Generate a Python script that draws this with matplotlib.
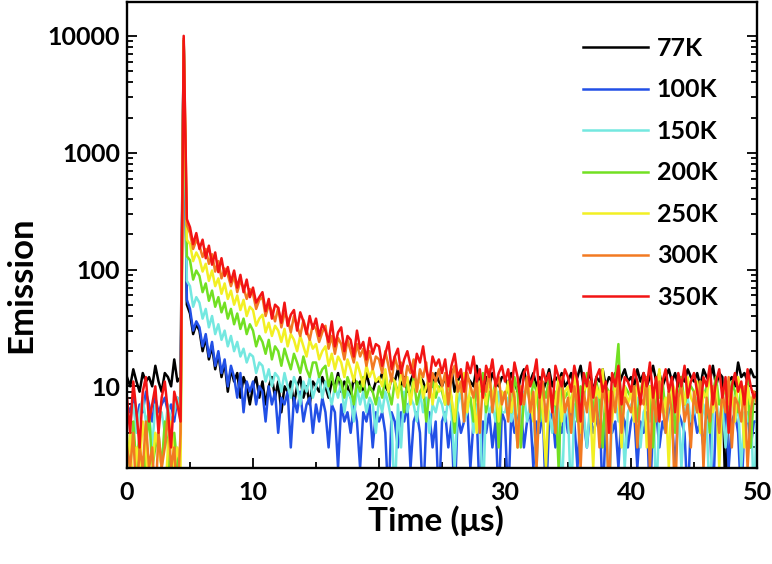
import numpy as np
from matplotlib import pyplot as plt
from matplotlib.ticker import MultipleLocator, LogLocator, NullFormatter

plt.rcParams['font.family'] = ['Lato', 'DejaVu Sans']
plt.rcParams['font.weight'] = 'bold'

# time axis, 0.25 us steps from 0 to 50
time_us = np.arange(0, 50.001, 0.25)

# emission counts (values below the axis floor drop off the plot)
em_77k = [12, 10, 14, 11, 9, 13, 11, 12, 10, 15, 11, 9, 13, 12, 10, 17, 11, 12, 9000, 50,
          42, 28, 34, 30, 20, 26, 17, 22, 14, 19, 12, 16, 9, 14, 11, 13, 8, 12, 10, 7,
          10, 12, 8, 11, 7, 10, 12, 8, 11, 6, 10, 9, 11, 7, 10, 12, 8, 10, 7, 11,
          10, 9, 12, 10, 8, 11, 10, 13, 9, 11, 10, 8, 12, 10, 11, 9, 13, 10, 9, 11,
          11, 13, 10, 9, 12, 11, 14, 10, 12, 9, 11, 13, 10, 12, 11, 9, 12, 10, 13, 11,
          10, 12, 11, 14, 9, 11, 13, 10, 12, 11, 10, 15, 11, 9, 12, 10, 13, 11, 10, 12,
          12, 10, 13, 11, 9, 12, 14, 10, 11, 13, 10, 12, 9, 11, 14, 10, 12, 11, 13, 10,
          11, 13, 10, 12, 15, 10, 11, 13, 9, 12, 11, 14, 10, 12, 11, 13, 10, 12, 14, 11,
          12, 10, 14, 11, 13, 10, 12, 15, 11, 13, 10, 12, 14, 11, 13, 10, 12, 11, 14, 12,
          11, 13, 10, 14, 12, 11, 15, 10, 13, 12, 1, 11, 12, 10, 16, 12, 13, 11, 14, 12,
          12]
em_100k = [7, 6, 8, 5, 7, 6, 9, 7, 5, 8, 6, 7, 8, 6, 7, 5, 8, 6, 9000, 55,
           46, 30, 36, 32, 22, 28, 18, 24, 15, 20, 13, 17, 10, 15, 12, 8, 13, 6, 11, 9,
           11, 7, 10, 9, 5, 10, 7, 9, 4, 8, 7, 9, 3, 8, 6, 9, 5, 7, 8, 4,
           7, 5, 8, 6, 3, 7, 6, 2, 7, 5, 6, 4, 7, 5, 2, 6, 5, 7, 3, 6,
           5, 6, 4, 1, 6, 5, 3, 6, 5, 7, 2, 5, 6, 4, 1, 5, 6, 3, 5, 1,
           5, 6, 3, 5, 1, 6, 4, 5, 7, 2, 5, 6, 1, 5, 4, 6, 3, 5, 1, 6,
           5, 1, 6, 4, 5, 7, 3, 5, 6, 2, 5, 4, 6, 1, 5, 6, 3, 5, 4, 6,
           4, 6, 5, 2, 6, 5, 3, 6, 4, 5, 7, 1, 5, 6, 4, 5, 2, 6, 5, 3,
           5, 6, 2, 5, 4, 6, 1, 5, 6, 3, 5, 4, 7, 5, 2, 6, 5, 4, 1, 5,
           6, 4, 5, 3, 6, 5, 1, 6, 4, 5, 7, 2, 5, 6, 4, 1, 5, 6, 3, 5,
           5]
em_150k = [6, 5, 7, 4, 6, 8, 5, 6, 3, 7, 5, 6, 4, 7, 5, 6, 8, 5, 9000, 80,
           72, 48, 58, 52, 38, 46, 32, 40, 28, 34, 25, 30, 22, 27, 20, 24, 18, 21, 16, 19,
           18, 13, 16, 15, 11, 14, 10, 13, 12, 9, 13, 10, 8, 12, 10, 7, 11, 9, 12, 8,
           10, 12, 8, 11, 9, 7, 10, 8, 11, 6, 9, 8, 5, 10, 7, 9, 6, 8, 7, 4,
           8, 6, 9, 7, 5, 1, 7, 3, 9, 6, 8, 7, 5, 9, 6, 8, 4, 7, 6, 8,
           7, 5, 8, 6, 2, 7, 9, 5, 6, 8, 4, 7, 6, 1, 8, 6, 7, 5, 9, 6,
           6, 8, 5, 7, 3, 6, 9, 5, 7, 6, 2, 8, 5, 7, 6, 4, 8, 6, 1, 7,
           6, 1, 7, 5, 8, 6, 3, 7, 5, 9, 6, 4, 7, 1, 6, 8, 5, 7, 2, 6,
           7, 5, 8, 3, 6, 7, 5, 9, 1, 6, 7, 4, 8, 6, 5, 7, 2, 6, 8, 5,
           6, 8, 4, 7, 5, 1, 6, 8, 5, 7, 3, 6, 9, 5, 7, 2, 6, 5, 8, 1,
           6]
em_200k = [3, 2, 5, 2, 4, 1, 3, 6, 2, 3, 4, 2, 5, 3, 1, 4, 2, 3, 9000, 130,
           120, 82, 98, 88, 64, 76, 54, 66, 48, 58, 43, 52, 38, 46, 34, 42, 31, 38, 28, 34,
           30, 22, 27, 24, 19, 25, 17, 22, 20, 15, 21, 17, 14, 19, 16, 13, 18, 14, 12, 16,
           16, 12, 14, 15, 10, 13, 9, 12, 11, 8, 12, 10, 7, 11, 9, 12, 8, 10, 9, 7,
           10, 8, 12, 9, 7, 11, 9, 10, 6, 11, 8, 12, 7, 9, 10, 5, 9, 11, 8, 10,
           9, 7, 11, 8, 4, 10, 9, 12, 7, 8, 5, 10, 9, 13, 6, 9, 8, 11, 3, 9,
           8, 10, 6, 12, 9, 3, 8, 10, 7, 11, 9, 5, 10, 8, 12, 6, 9, 2, 10, 8,
           9, 7, 11, 5, 10, 8, 13, 9, 6, 11, 8, 3, 10, 9, 7, 12, 23, 5, 10, 9,
           8, 10, 5, 9, 12, 7, 10, 3, 9, 8, 11, 6, 9, 10, 4, 8, 12, 7, 9, 10,
           9, 6, 11, 8, 10, 4, 9, 12, 7, 8, 10, 5, 11, 9, 6, 10, 8, 12, 3, 9,
           8]
em_250k = [2, 4, 1, 3, 2, 5, 3, 1, 2, 4, 3, 2, 1, 3, 5, 2, 3, 2, 9000, 180,
           165, 118, 140, 124, 96, 112, 80, 98, 72, 84, 62, 76, 56, 66, 50, 60, 45, 55, 40, 48,
           45, 33, 38, 41, 29, 35, 27, 33, 30, 24, 31, 22, 28, 25, 20, 27, 22, 18, 25, 21,
           23, 17, 20, 22, 15, 19, 14, 18, 16, 12, 17, 14, 11, 16, 13, 10, 15, 12, 14, 11,
           12, 10, 14, 9, 12, 11, 8, 13, 10, 12, 7, 11, 9, 13, 8, 10, 12, 7, 11, 9,
           10, 7, 12, 8, 5, 11, 9, 13, 6, 10, 8, 4, 11, 9, 7, 12, 8, 10, 5, 9,
           8, 11, 6, 9, 3, 10, 7, 12, 8, 5, 9, 11, 6, 2, 10, 8, 7, 12, 5, 9,
           10, 6, 13, 8, 4, 9, 11, 7, 2, 10, 8, 14, 6, 9, 5, 11, 8, 3, 10, 7,
           9, 5, 11, 8, 12, 3, 10, 7, 9, 14, 6, 8, 2, 11, 9, 5, 10, 7, 12, 8,
           7, 11, 4, 9, 8, 13, 6, 10, 2, 8, 11, 7, 9, 5, 12, 8, 3, 10, 7, 9,
           8]
em_300k = [3, 2, 4, 1, 3, 2, 5, 2, 3, 1, 4, 2, 3, 6, 2, 3, 1, 4, 9500, 240,
           205, 150, 178, 160, 128, 150, 112, 135, 96, 118, 84, 102, 90, 72, 88, 64, 80, 70, 56, 68,
           62, 46, 55, 58, 40, 50, 44, 36, 47, 32, 42, 38, 29, 40, 33, 27, 37, 30, 25, 34,
           31, 24, 29, 33, 21, 27, 19, 26, 23, 17, 25, 20, 16, 23, 18, 21, 15, 20, 14, 18,
           17, 13, 20, 15, 11, 18, 14, 16, 10, 15, 13, 17, 9, 14, 12, 16, 8, 13, 11, 14,
           10, 13, 7, 12, 15, 9, 11, 5, 13, 10, 8, 12, 4, 11, 9, 14, 6, 10, 12, 7,
           9, 5, 11, 8, 3, 10, 7, 12, 6, 9, 2, 8, 11, 5, 10, 7, 4, 9, 12, 6,
           8, 4, 10, 7, 2, 9, 6, 11, 5, 8, 3, 10, 7, 1, 9, 6, 12, 4, 8, 7,
           6, 10, 3, 8, 7, 12, 2, 9, 5, 11, 7, 4, 9, 6, 1, 8, 10, 5, 7, 3,
           9, 6, 11, 2, 8, 5, 10, 7, 4, 9, 6, 12, 3, 8, 7, 5, 10, 2, 6, 9,
           7]
em_350k = [8, 4, 11, 6, 3, 9, 12, 5, 7, 10, 4, 8, 11, 6, 3, 9, 7, 5, 10000, 270,
           230, 165, 205, 150, 180, 125, 160, 110, 140, 95, 125, 88, 105, 78, 98, 70, 90, 64, 82, 58,
           70, 52, 58, 64, 44, 56, 38, 50, 47, 35, 52, 33, 41, 45, 30, 43, 36, 28, 40, 31,
           38, 27, 34, 30, 24, 36, 22, 29, 32, 20, 27, 25, 18, 30, 21, 24, 17, 26, 19, 23,
           22, 15, 19, 24, 14, 18, 21, 13, 17, 20, 15, 12, 19, 16, 22, 14, 11, 18, 15, 17,
           13, 17, 10, 15, 19, 12, 14, 9, 16, 13, 18, 11, 14, 8, 15, 12, 17, 10, 13, 15,
           11, 14, 9, 16, 12, 7, 13, 15, 10, 12, 17, 8, 14, 11, 13, 6, 15, 12, 10, 14,
           12, 9, 15, 11, 5, 13, 10, 16, 8, 12, 14, 9, 11, 4, 13, 10, 15, 7, 12, 11,
           9, 14, 11, 7, 13, 10, 16, 8, 12, 5, 11, 14, 9, 12, 6, 13, 10, 15, 8, 11,
           13, 9, 6, 12, 10, 15, 7, 11, 14, 8, 12, 4, 10, 13, 9, 11, 7, 14, 10, 8,
           9]

series = [em_77k, em_100k, em_150k, em_200k, em_250k, em_300k, em_350k]
labels = ['77K', '100K', '150K', '200K', '250K', '300K', '350K']
colors = ['#000000', '#2250e6', '#74e8e0', '#72e022', '#f2f024', '#f27a22', '#f21414']

fig = plt.figure(figsize=(7.72, 5.64), dpi=100)
ax = fig.add_axes([0.1645, 0.1702, 0.8161, 0.8263])

for vals, lab, col in zip(series, labels, colors):
    ax.plot(time_us, vals, color=col, lw=1.8, label=lab)

ax.set_yscale('log')
ax.set_xlim(0, 50)
ax.set_ylim(2, 19500)
ax.set_yticks([10, 100, 1000, 10000])
ax.set_yticklabels(['10', '100', '1000', '10000'])
ax.yaxis.set_minor_locator(LogLocator(base=10, subs=np.arange(2, 10)))
ax.yaxis.set_minor_formatter(NullFormatter())
ax.xaxis.set_major_locator(MultipleLocator(10))
ax.xaxis.set_minor_locator(MultipleLocator(5))

ax.tick_params(which='both', direction='in', right=True, top=False, width=1.3)
ax.tick_params(which='major', length=7, labelsize=18)
ax.tick_params(axis='x', which='major', pad=9)
ax.tick_params(axis='y', which='major', pad=5)
ax.tick_params(which='minor', length=4)
for sp in ax.spines.values():
    sp.set_linewidth(1.7)

ax.set_xlabel('Time (μs)', fontsize=24, fontweight='bold')
ax.set_ylabel('Emission', fontsize=25, fontweight='bold')
ax.xaxis.set_label_coords(0.49, -0.08)
ax.yaxis.set_label_coords(-0.142, 0.393)

ax.legend(loc='upper left', bbox_to_anchor=(0.724, 0.925), frameon=False,
          fontsize=18, handlelength=2.6, labelspacing=0.74, handletextpad=0.35,
          borderpad=0, borderaxespad=0)

plt.savefig('out.png', dpi=100)
